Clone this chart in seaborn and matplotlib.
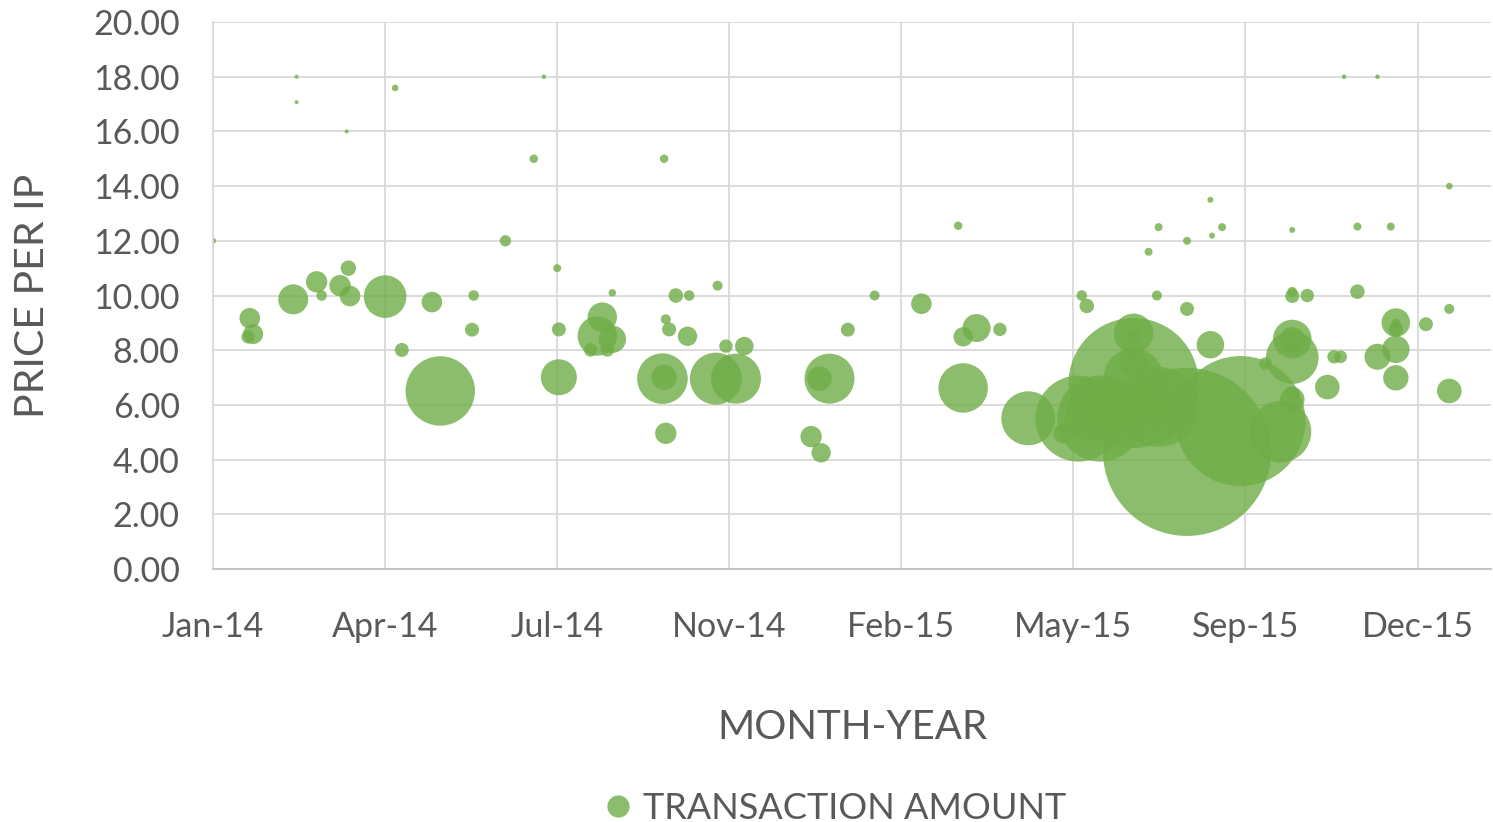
import matplotlib
matplotlib.use("Agg")
import matplotlib.pyplot as plt
import matplotlib.dates as mdates
from matplotlib.lines import Line2D
import seaborn as sns
import pandas as pd

# -----------------------------
# Data
# -----------------------------
dates = [
    "2014-01-01", "2014-02-20", "2014-02-20", "2014-03-22", "2014-04-20",
    "2014-03-23", "2014-03-04", "2014-03-18", "2014-03-24", "2014-03-07",
    "2014-02-18", "2014-04-14", "2014-05-12", "2014-06-06", "2014-01-23",
    "2014-01-25", "2014-01-22", "2014-06-05", "2014-04-24", "2014-05-17",
    "2014-07-18", "2014-07-12", "2014-09-28", "2014-06-25", "2014-07-26",
    "2014-08-28", "2014-10-05", "2014-10-13", "2014-10-30", "2014-07-27",
    "2014-08-22", "2014-08-19", "2014-08-28", "2014-08-15", "2014-08-25",
    "2014-09-29", "2014-10-01", "2014-10-12", "2014-11-04", "2014-11-15",
    "2014-07-27", "2014-09-27", "2014-09-28", "2014-10-29", "2014-11-10",
    "2014-09-29", "2015-02-01", "2015-03-23", "2015-03-01", "2015-01-16",
    "2014-12-25", "2014-12-31", "2015-01-05", "2014-12-30", "2015-04-03",
    "2015-03-26", "2015-04-17", "2015-03-26", "2015-08-21", "2015-07-21",
    "2015-08-28", "2015-08-07", "2015-08-22", "2015-07-15", "2015-06-05",
    "2015-07-20", "2015-06-08", "2015-08-07", "2015-07-06", "2015-07-06",
    "2015-08-21", "2015-07-06", "2015-07-06", "2015-07-06", "2015-08-07",
    "2015-09-08", "2015-05-04", "2015-06-03", "2015-06-16", "2015-06-10",
    "2015-06-22", "2015-05-25", "2015-07-21", "2015-07-21", "2015-10-02",
    "2015-11-09", "2015-11-29", "2016-01-11", "2015-10-09", "2015-11-17",
    "2015-12-07", "2015-10-09", "2015-10-09", "2015-10-18", "2015-11-17",
    "2016-01-11", "2015-12-10", "2015-12-10", "2015-12-10", "2015-12-28",
    "2015-10-09", "2015-10-09", "2015-10-09", "2015-11-03", "2015-11-07",
    "2015-11-29", "2015-12-10", "2015-09-23", "2015-10-30", "2015-12-10",
    "2016-01-11", "2015-10-09", "2015-10-09",
]

price_per_ip = [
    12.00, 18.00, 17.07, 16.00, 17.59,
    11.00, 10.50, 10.36, 9.98, 10.00,
    9.86, 9.96, 9.76, 10.00, 9.17,
    8.59, 8.49, 8.75, 8.01, 6.51,
    18.00, 15.00, 15.00, 12.00, 11.00,
    10.10, 10.00, 10.00, 10.36, 8.76,
    9.21, 8.52, 8.40, 8.01, 8.01,
    9.13, 8.76, 8.51, 8.15, 8.15,
    7.01, 6.96, 7.01, 6.96, 6.96,
    4.96, 10.00, 12.55, 9.70, 8.75,
    4.84, 4.25, 6.96, 6.96, 8.81,
    8.49, 8.76, 6.62, 13.50, 12.50,
    12.50, 12.00, 12.19, 11.60, 10.00,
    10.00, 9.62, 9.51, 8.62, 8.49,
    8.20, 6.80, 6.97, 7.57, 4.28,
    5.41, 5.51, 5.50, 5.50, 5.59,
    6.00, 4.96, 5.93, 5.88, 5.02,
    18.00, 18.00, 14.00, 12.40, 12.52,
    12.52, 10.13, 9.98, 10.00, 10.14,
    9.51, 9.01, 8.98, 8.76, 8.95,
    8.41, 8.37, 7.73, 7.76, 7.76,
    7.76, 8.03, 7.51, 6.65, 6.99,
    6.51, 6.42, 6.20,
]

transaction_amount = [
    900, 400, 400, 400, 1100,
    5900, 11400, 11400, 10600, 2800,
    22500, 45400, 10600, 2800, 10600,
    10000, 4500, 4900, 4900, 120400,
    500, 1800, 1800, 3200, 1600,
    1400, 5300, 2800, 2500, 4900,
    21600, 38800, 18800, 4500, 4500,
    2500, 4900, 9400, 4500, 8600,
    32400, 64000, 16100, 67600, 62500,
    11400, 2500, 1800, 10600, 4900,
    11400, 9400, 62500, 15100, 19600,
    9400, 4500, 61000, 900, 1600,
    1600, 1600, 900, 1600, 2800,
    2500, 5300, 4900, 38800, 4500,
    18800, 422500, 90000, 19600, 705600,
    422500, 72900, 184900, 184900, 62500,
    62500, 10000, 160000, 27900, 94200,
    500, 500, 1100, 900, 1600,
    1600, 2500, 4900, 4500, 5300,
    2500, 20400, 2200, 5300, 4900,
    37200, 16900, 69200, 4500, 4000,
    16900, 18800, 4000, 15100, 16100,
    15100, 5300, 15100,
]

df = pd.DataFrame({
    "month": pd.to_datetime(dates),
    "price": price_per_ip,
    "amount": transaction_amount,
})

# -----------------------------
# Style
# -----------------------------
DPI = 100
GREEN = "#70AD47"
TEXT = "#595959"
GRID = "#D9D9D9"

sns.set_theme(style="white")
plt.rcParams["font.family"] = ["Lato", "DejaVu Sans"]

fig = plt.figure(figsize=(14.93, 8.22), dpi=DPI)
ax = fig.add_axes([0.1427, 0.3078, 0.8560, 0.6654])

# bubble area proportional to amount (Excel-style)
max_amt = max(transaction_amount)
max_area = max_amt * 4 * (72 / DPI) ** 2 / 100

sns.scatterplot(
    data=df, x="month", y="price", size="amount",
    sizes=(0, max_area), size_norm=(0, max_amt),
    color=GREEN, alpha=0.8, linewidth=0, legend=False, ax=ax,
)

# axes
start = pd.Timestamp("2014-01-01")
ax.set_xlim(start, pd.Timestamp("2016-02-05"))
ax.set_ylim(0, 20)
ax.set_xticks(pd.date_range(start, periods=8, freq="103D"))
ax.xaxis.set_major_formatter(mdates.DateFormatter("%b-%y"))
ax.set_yticks(range(0, 21, 2))
ax.yaxis.set_major_formatter(matplotlib.ticker.FormatStrFormatter("%.2f"))

ax.grid(True, color=GRID, linewidth=1.3)
ax.set_axisbelow(True)
for side in ["top", "right"]:
    ax.spines[side].set_visible(False)
ax.spines["left"].set_color(GRID)
ax.spines["left"].set_linewidth(1.3)
ax.spines["bottom"].set_color("#BFBFBF")
ax.spines["bottom"].set_linewidth(1.3)

ax.tick_params(axis="both", length=0, labelsize=24.5, colors=TEXT)
ax.tick_params(axis="x", pad=30)
ax.tick_params(axis="y", pad=24)

ax.set_xlabel("MONTH-YEAR", fontsize=29, color=TEXT, labelpad=48)
ax.set_ylabel("PRICE PER IP", fontsize=29.5, color=TEXT, labelpad=30)

handle = Line2D([], [], linestyle="none", marker="o", markersize=16,
                markerfacecolor=GREEN, markeredgewidth=0, alpha=0.8)
fig.legend([handle], ["TRANSACTION AMOUNT"], loc="center",
           bbox_to_anchor=(0.558, 0.017), frameon=False, fontsize=26,
           labelcolor=TEXT, handletextpad=0.2, handlelength=1.0)

fig.savefig("out.png", dpi=DPI)
